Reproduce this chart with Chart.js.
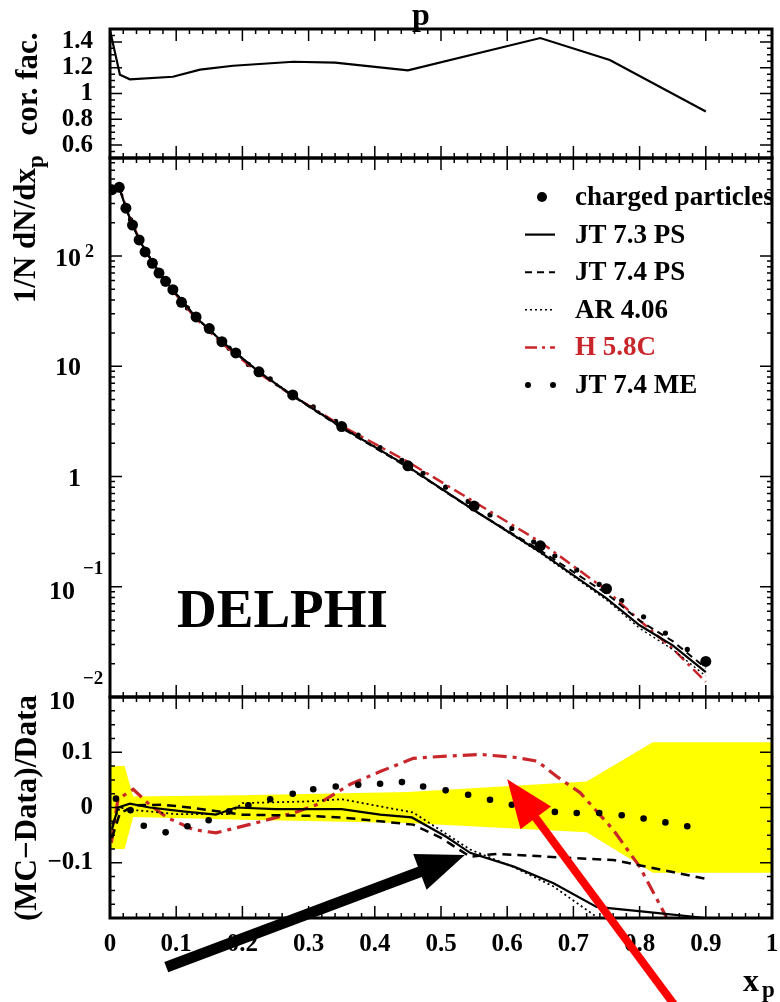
<!DOCTYPE html>
<html>
<head>
<meta charset="utf-8">
<title>DELPHI p spectrum</title>
<script src="https://cdn.jsdelivr.net/npm/chart.js@4.4.1/dist/chart.umd.min.js"></script>
<style>
  html, body { margin: 0; padding: 0; background: #fff; }
  #wrap { position: relative; width: 780px; height: 1002px; overflow: hidden; background: #fff; }
  canvas { position: absolute; left: 0; }
  #top { top: 0; }
  #mid { top: 150px; }
  #bot { top: 690px; }
</style>
</head>
<body>
<div id="wrap">
  <canvas id="top" width="780" height="165"></canvas>
  <canvas id="mid" width="780" height="570"></canvas>
  <canvas id="bot" width="780" height="312"></canvas>
</div>
<script>
// ---- values ----

// top panel: correction factor
var corX = [0, 0.015, 0.03, 0.095, 0.136, 0.186, 0.277, 0.34, 0.45, 0.65, 0.755, 0.9];
var corY = [1.49, 1.146, 1.11, 1.13, 1.185, 1.215, 1.246, 1.24, 1.18, 1.43, 1.26, 0.86];

// middle panel: 1/N dN/dxp, data
var dataX = [0.003, 0.014, 0.024, 0.034, 0.044, 0.053, 0.064, 0.074, 0.084, 0.095, 0.108, 0.13, 0.15, 0.169, 0.19, 0.225, 0.276, 0.35, 0.45, 0.55, 0.65, 0.75, 0.9];
var dataY = [400, 420, 272, 191, 140, 109, 86, 70, 59, 49.5, 38, 28, 22, 16.7, 13.2, 8.9, 5.5, 2.84, 1.25, 0.54, 0.235, 0.096, 0.021];

// middle panel: generators
var mcX = [0.003, 0.014, 0.024, 0.034, 0.044, 0.055, 0.075, 0.095, 0.13, 0.17, 0.225, 0.275, 0.35, 0.45, 0.55, 0.65, 0.75, 0.8, 0.85, 0.9];
var jt73Y = [388, 420, 273, 192, 141, 108, 69.7, 49.2, 27.7, 16.6, 8.88, 5.48, 2.79, 1.23, 0.494, 0.206, 0.0784, 0.0447, 0.0294, 0.0168];
var jt74Y = [380, 416, 272, 192, 141, 108.5, 70.3, 49.5, 27.9, 16.6, 8.77, 5.42, 2.75, 1.21, 0.492, 0.214, 0.0868, 0.0493, 0.0321, 0.0183];
var ar406Y = [388, 420, 272, 190, 139, 107, 69.3, 49.0, 27.7, 16.7, 8.97, 5.56, 2.84, 1.24, 0.492, 0.202, 0.0758, 0.042, 0.027, 0.0155];
var h58cY = [376, 428, 280, 197, 143, 108.5, 69.3, 48.3, 26.9, 16.0, 8.65, 5.45, 2.88, 1.36, 0.59, 0.255, 0.093, 0.0495, 0.0274, 0.0137];

var meX = [0.009, 0.031, 0.051, 0.084, 0.117, 0.149, 0.18, 0.209, 0.242, 0.276, 0.307, 0.341, 0.375, 0.408, 0.441, 0.473, 0.507, 0.541, 0.574, 0.607, 0.64, 0.672, 0.705, 0.739, 0.773, 0.806, 0.839, 0.872];
var meY = [416, 214, 110, 56, 33.8, 21.5, 14.6, 10.4, 7.68, 5.64, 4.28, 3.16, 2.38, 1.83, 1.40, 1.07, 0.80, 0.595, 0.448, 0.338, 0.255, 0.191, 0.142, 0.105, 0.075, 0.0534, 0.038, 0.027];

// bottom panel: (MC-Data)/Data
var rJt73X = [0.003, 0.012, 0.03, 0.06, 0.11, 0.16, 0.19, 0.25, 0.35, 0.408, 0.456, 0.508, 0.544, 0.61, 0.67, 0.735, 0.81, 0.9];
var rJt73Y = [-0.04, 0.0, 0.007, 0.0, -0.007, -0.013, 0.0, -0.003, -0.003, -0.013, -0.018, -0.053, -0.082, -0.107, -0.137, -0.18, -0.189, -0.2];
var rJt74X = [0.003, 0.015, 0.04, 0.08, 0.12, 0.17, 0.2, 0.3, 0.35, 0.408, 0.458, 0.5, 0.544, 0.584, 0.66, 0.76, 0.81, 0.9];
var rJt74Y = [-0.055, -0.01, 0.004, 0.005, 0.0, -0.008, -0.013, -0.015, -0.018, -0.025, -0.031, -0.055, -0.089, -0.084, -0.089, -0.095, -0.107, -0.129];
var rAr406X = [0.003, 0.015, 0.04, 0.1, 0.18, 0.2, 0.3, 0.35, 0.408, 0.458, 0.544, 0.61, 0.67, 0.735, 0.76];
var rAr406Y = [-0.03, 0.0, -0.005, -0.012, -0.012, 0.008, 0.011, 0.015, 0.002, -0.009, -0.076, -0.108, -0.143, -0.198, -0.23];
var rH58cX = [0.002, 0.012, 0.035, 0.06, 0.086, 0.126, 0.16, 0.21, 0.277, 0.312, 0.363, 0.408, 0.458, 0.508, 0.559, 0.61, 0.645, 0.675, 0.71, 0.76, 0.8, 0.835, 0.845];
var rH58cY = [-0.064, 0.015, 0.033, 0.005, -0.018, -0.04, -0.046, -0.031, -0.01, 0.005, 0.042, 0.065, 0.089, 0.093, 0.096, 0.091, 0.084, 0.056, 0.027, -0.04, -0.107, -0.186, -0.21];
var meRatio = [0.016, -0.005, -0.033, -0.045, -0.034, -0.023, -0.007, 0.004, 0.015, 0.025, 0.033, 0.038, 0.041, 0.043, 0.046, 0.038, 0.031, 0.023, 0.014, 0.005, 0.0, -0.008, -0.01, -0.01, -0.014, -0.02, -0.027, -0.034];

// yellow error band of the data
var bandX = [0, 0.022, 0.035, 0.2, 0.45, 0.72, 0.82, 1.0];
var bandHi = [0.075, 0.075, 0.02, 0.022, 0.028, 0.047, 0.118, 0.118];
var bandLo = [-0.075, -0.075, -0.017, -0.022, -0.028, -0.045, -0.118, -0.118];

// tick labels
var xTicks = [0, 0.1, 0.2, 0.3, 0.4, 0.5, 0.6, 0.7, 0.8, 0.9, 1];
var xTickLabels = ['0', '0.1', '0.2', '0.3', '0.4', '0.5', '0.6', '0.7', '0.8', '0.9', '1'];
var corTicks = [0.6, 0.8, 1, 1.2, 1.4];
var corTickLabels = ['0.6', '0.8', '1', '1.2', '1.4'];
var logTicks = [0.01, 0.1, 1, 10, 100];
var logBase = ['10', '10', '1', '10', '10'];
var logExp = ['\u22122', '\u22121', '', '', '2'];
var ratioTicks = [-0.1, 0, 0.1];
var ratioTickLabels = ['\u22120.1', '0', '0.1'];

// arrows drawn over the ratio panel: [x, y] in its data units
var blackArrowFrom = [0.085, -0.289];
var blackArrowTo = [0.536, -0.086];
var redArrowFrom = [0.861, -0.371];
var redArrowTo = [0.6, 0.051];

// ---- drawing ----
var serif = "'Liberation Serif', 'Times New Roman', serif";
Chart.defaults.font.family = serif;
Chart.defaults.font.weight = 'bold';
Chart.defaults.color = '#000';
var RED = '#c8262a';

function pts(xs, ys) {
  var out = [];
  for (var i = 0; i < xs.length; i++) {
    out.push({x: xs[i], y: ys[i]});
  }
  return out;
}

function hiddenX() {
  return {type: 'linear', min: 0, max: 1, display: false};
}

function shownX() {
  return {
    type: 'linear', min: 0, max: 1,
    grid: {display: false, drawTicks: false},
    border: {display: false},
    afterBuildTicks: function(s) {
      s.ticks = xTicks.map(function(v) { return {value: v}; });
    },
    ticks: {
      padding: 12, maxRotation: 0, autoSkip: false,
      font: {size: 25, weight: 'bold'},
      callback: function(v, i) { return xTickLabels[i]; }
    },
    afterFit: function(s) { s.height = 84; s.paddingLeft = 0; s.paddingRight = 0; }
  };
}

function fixY(s) {
  s.width = 110;
  s.paddingTop = 0;
  s.paddingBottom = 0;
}

// inner ticks on all four sides + the heavy frame
function frameFor(yMajor, yMinor) {
  return {
    id: 'frame',
    afterDatasetsDraw: function(chart) {
      var ctx = chart.ctx, a = chart.chartArea;
      var xs = chart.scales.x, ys = chart.scales.y;
      ctx.save();
      ctx.strokeStyle = '#000';
      ctx.lineWidth = 1.5;
      ctx.beginPath();
      for (var i = 0; i <= 50; i++) {
        var px = xs.getPixelForValue(i / 50);
        var len = (i % 5 === 0) ? 12 : 5;
        ctx.moveTo(px, a.bottom); ctx.lineTo(px, a.bottom - len);
        ctx.moveTo(px, a.top); ctx.lineTo(px, a.top + len);
      }
      function side(v, len) {
        var py = ys.getPixelForValue(v);
        ctx.moveTo(a.left, py); ctx.lineTo(a.left + len, py);
        ctx.moveTo(a.right, py); ctx.lineTo(a.right - len, py);
      }
      yMajor.forEach(function(v) { side(v, 12); });
      yMinor.forEach(function(v) { side(v, 5); });
      ctx.stroke();
      ctx.lineWidth = 3;
      ctx.strokeRect(a.left, a.top, a.right - a.left, a.bottom - a.top);
      ctx.restore();
    }
  };
}

function rotatedText(ctx, text, x, y, align) {
  ctx.save();
  ctx.translate(x, y);
  ctx.rotate(-Math.PI / 2);
  ctx.textAlign = align;
  ctx.textBaseline = 'alphabetic';
  ctx.fillText(text, 0, 0);
  ctx.restore();
}

var corMinor = [];
for (var c = 11; c < 30; c++) {
  if (c % 4 !== 0) corMinor.push(c * 0.05);
}
var logMinor = [];
for (var d = -2; d <= 2; d++) {
  for (var k = 2; k <= 9; k++) {
    var lv = k * Math.pow(10, d);
    if (lv < 775) logMinor.push(lv);
  }
}
var ratioMinor = [];
for (var r = -7; r <= 7; r++) {
  if (r % 4 !== 0) ratioMinor.push(r * 0.025);
}

// ---------- top panel ----------
var topText = {
  id: 'topText',
  afterDraw: function(chart) {
    var ctx = chart.ctx;
    ctx.save();
    ctx.fillStyle = '#000';
    ctx.font = 'bold 32px ' + serif;
    ctx.textAlign = 'center';
    ctx.fillText('p', 421, 25);
    ctx.font = 'bold 31px ' + serif;
    rotatedText(ctx, 'cor. fac.', 37, 84, 'center');
    ctx.restore();
  }
};

var topChart = new Chart(document.getElementById('top'), {
  type: 'line',
  data: {
    datasets: [{
      label: 'cor. fac.', data: pts(corX, corY),
      borderColor: '#000', borderWidth: 2.2, pointRadius: 0, fill: false
    }]
  },
  options: {
    responsive: false, animation: false, events: [],
    layout: {padding: {top: 29, right: 8, bottom: 7, left: 0}, autoPadding: false},
    plugins: {legend: {display: false}, tooltip: {enabled: false}},
    scales: {
      x: hiddenX(),
      y: {
        type: 'linear', min: 0.5, max: 1.5,
        grid: {display: false, drawTicks: false},
        border: {display: false},
        afterBuildTicks: function(s) {
          s.ticks = corTicks.map(function(v) { return {value: v}; });
        },
        ticks: {
          padding: 17, autoSkip: false, font: {size: 25, weight: 'bold'},
          callback: function(v, i) { return corTickLabels[i]; }
        },
        afterFit: fixY
      }
    }
  },
  plugins: [frameFor(corTicks, corMinor), topText]
});

// ---------- middle panel ----------
var midText = {
  id: 'midText',
  afterDraw: function(chart) {
    var ctx = chart.ctx, a = chart.chartArea, ys = chart.scales.y;
    ctx.save();
    ctx.fillStyle = '#000';

    // log axis labels with exponents
    for (var i = 0; i < logTicks.length; i++) {
      var py = ys.getPixelForValue(logTicks[i]);
      ctx.font = 'bold 26px ' + serif;
      ctx.textAlign = 'right';
      if (logExp[i] === '') {
        ctx.fillText(logBase[i], 81, py + 9);
      } else if (logExp[i].charAt(0) === '\u2212') {
        ctx.fillText(logBase[i], 75, py + 12);
        ctx.font = 'bold 19px ' + serif;
        ctx.textAlign = 'left';
        ctx.fillText(logExp[i], 83, py - 13);
      } else {
        ctx.fillText(logBase[i], 81, py + 10);
        ctx.font = 'bold 18px ' + serif;
        ctx.textAlign = 'left';
        ctx.fillText(logExp[i], 85, py + 1);
      }
    }

    // axis title 1/N dN/dx_p
    ctx.font = 'bold 31px ' + serif;
    rotatedText(ctx, '1/N dN/dx', 35, 18, 'right');
    ctx.save();
    ctx.translate(43, 18);
    ctx.rotate(-Math.PI / 2);
    ctx.font = 'bold 23px ' + serif;
    ctx.textAlign = 'left';
    ctx.fillText('p', 0, 0);
    ctx.restore();

    // experiment label
    ctx.font = 'bold 55px ' + serif;
    ctx.textAlign = 'left';
    ctx.fillText('DELPHI', a.left + 67, a.top + 469);

    // key
    var sets = chart.data.datasets;
    var sx0 = a.right - 247, sx1 = a.right - 217, tx = a.right - 197;
    ctx.font = 'bold 27px ' + serif;
    for (var j = 0; j < sets.length; j++) {
      var ds = sets[j];
      var base = a.top + 47 + j * 37.6;
      var cy = base - 8;
      ctx.fillStyle = ds.borderColor;
      ctx.strokeStyle = ds.borderColor;
      if (ds.showLine === false) {
        if (ds.pointRadius > 4) {
          ctx.beginPath(); ctx.arc(a.right - 230, cy, 5, 0, 2 * Math.PI); ctx.fill();
        } else {
          ctx.beginPath(); ctx.arc(sx0 + 3, cy, 3, 0, 2 * Math.PI); ctx.fill();
          ctx.beginPath(); ctx.arc(sx1 - 2, cy, 3, 0, 2 * Math.PI); ctx.fill();
        }
      } else {
        ctx.save();
        ctx.lineWidth = ds.borderWidth;
        ctx.setLineDash(ds.borderDash || []);
        ctx.beginPath(); ctx.moveTo(sx0, cy); ctx.lineTo(sx1, cy); ctx.stroke();
        ctx.restore();
      }
      ctx.textAlign = 'left';
      ctx.fillText(ds.label, tx, base);
    }
    ctx.restore();
  }
};

var midChart = new Chart(document.getElementById('mid'), {
  type: 'line',
  data: {
    datasets: [
      {label: 'charged particles', data: pts(dataX, dataY), showLine: false,
        borderColor: '#000', backgroundColor: '#000', pointRadius: 5.5, pointBorderWidth: 0},
      {label: 'JT 7.3 PS', data: pts(mcX, jt73Y), borderColor: '#000', borderWidth: 2.2, pointRadius: 0},
      {label: 'JT 7.4 PS', data: pts(mcX, jt74Y), borderColor: '#000', borderWidth: 2, borderDash: [7, 5], pointRadius: 0},
      {label: 'AR 4.06', data: pts(mcX, ar406Y), borderColor: '#000', borderWidth: 1.4, borderDash: [2, 3], pointRadius: 0},
      {label: 'H 5.8C', data: pts(mcX, h58cY), borderColor: RED, borderWidth: 2.5, borderDash: [12, 5, 3, 5], pointRadius: 0},
      {label: 'JT 7.4 ME', data: pts(meX, meY), showLine: false,
        borderColor: '#000', backgroundColor: '#000', pointRadius: 2.6, pointBorderWidth: 0}
    ]
  },
  options: {
    responsive: false, animation: false, events: [],
    layout: {padding: {top: 8, right: 8, bottom: 23, left: 0}, autoPadding: false},
    plugins: {legend: {display: false}, tooltip: {enabled: false}},
    scales: {
      x: hiddenX(),
      y: {
        type: 'logarithmic', min: 0.01, max: 775,
        grid: {display: false, drawTicks: false},
        border: {display: false},
        ticks: {display: false},
        afterFit: fixY
      }
    }
  },
  plugins: [frameFor(logTicks, logMinor), midText]
});

// ---------- bottom panel ----------
function drawArrow(ctx, x0, y0, x1, y1, color, width, headLen, headHalf) {
  var dx = x1 - x0, dy = y1 - y0;
  var len = Math.sqrt(dx * dx + dy * dy);
  var ux = dx / len, uy = dy / len;
  var bx = x1 - ux * headLen, by = y1 - uy * headLen;
  ctx.save();
  ctx.strokeStyle = color;
  ctx.fillStyle = color;
  ctx.lineWidth = width;
  ctx.beginPath(); ctx.moveTo(x0, y0); ctx.lineTo(bx + ux * 2, by + uy * 2); ctx.stroke();
  ctx.beginPath();
  ctx.moveTo(x1, y1);
  ctx.lineTo(bx - uy * headHalf, by + ux * headHalf);
  ctx.lineTo(bx + uy * headHalf, by - ux * headHalf);
  ctx.closePath();
  ctx.fill();
  ctx.restore();
}

var botText = {
  id: 'botText',
  afterDraw: function(chart) {
    var ctx = chart.ctx, xs = chart.scales.x, ys = chart.scales.y;
    ctx.save();
    ctx.fillStyle = '#000';
    ctx.font = 'bold 31px ' + serif;
    rotatedText(ctx, '(MC\u2212Data)/Data', 36, 118, 'center');
    ctx.font = 'bold 32px ' + serif;
    ctx.textAlign = 'left';
    ctx.fillText('x', 743, 301);
    ctx.font = 'bold 23px ' + serif;
    ctx.fillText('p', 762, 307);

    drawArrow(ctx,
      xs.getPixelForValue(blackArrowFrom[0]), ys.getPixelForValue(blackArrowFrom[1]),
      xs.getPixelForValue(blackArrowTo[0]), ys.getPixelForValue(blackArrowTo[1]),
      '#000', 11, 48, 19);
    drawArrow(ctx,
      xs.getPixelForValue(redArrowFrom[0]), ys.getPixelForValue(redArrowFrom[1]),
      xs.getPixelForValue(redArrowTo[0]), ys.getPixelForValue(redArrowTo[1]),
      '#ff0000', 8, 48, 19);
    ctx.restore();
  }
};

var botChart = new Chart(document.getElementById('bot'), {
  type: 'line',
  data: {
    datasets: [
      {label: 'JT 7.4 ME', data: pts(meX, meRatio), showLine: false,
        borderColor: '#000', backgroundColor: '#000', pointRadius: 3.3, pointBorderWidth: 0},
      {label: 'JT 7.3 PS', data: pts(rJt73X, rJt73Y), borderColor: '#000', borderWidth: 2.2, pointRadius: 0},
      {label: 'JT 7.4 PS', data: pts(rJt74X, rJt74Y), borderColor: '#000', borderWidth: 2.5, borderDash: [9, 6], pointRadius: 0},
      {label: 'AR 4.06', data: pts(rAr406X, rAr406Y), borderColor: '#000', borderWidth: 1.8, borderDash: [2, 3], pointRadius: 0},
      {label: 'H 5.8C', data: pts(rH58cX, rH58cY), borderColor: RED, borderWidth: 3.2, borderDash: [14, 6, 4, 6], pointRadius: 0},
      {label: 'data error', data: pts(bandX, bandHi), borderWidth: 0, pointRadius: 0,
        backgroundColor: '#ffff00', fill: '+1', order: 10},
      {label: 'data error low', data: pts(bandX, bandLo), borderWidth: 0, pointRadius: 0,
        fill: false, order: 10}
    ]
  },
  options: {
    responsive: false, animation: false, events: [],
    layout: {padding: {top: 7, right: 8, bottom: 0, left: 0}, autoPadding: false},
    plugins: {legend: {display: false}, tooltip: {enabled: false}},
    scales: {
      x: shownX(),
      y: {
        type: 'linear', min: -0.2, max: 0.2,
        grid: {display: false, drawTicks: false},
        border: {display: false},
        afterBuildTicks: function(s) {
          s.ticks = ratioTicks.map(function(v) { return {value: v}; });
        },
        ticks: {
          padding: 17, autoSkip: false, font: {size: 25, weight: 'bold'},
          callback: function(v, i) { return ratioTickLabels[i]; }
        },
        afterFit: fixY
      }
    }
  },
  plugins: [frameFor(ratioTicks, ratioMinor), botText]
});
</script>
</body>
</html>
